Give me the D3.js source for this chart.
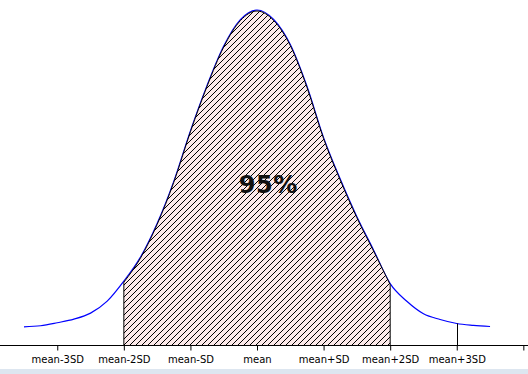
<!DOCTYPE html>
<html>
<head>
<meta charset="utf-8">
<script src="https://cdn.jsdelivr.net/npm/d3@7"></script>
<style>
  body { margin: 0; background: #fff; }
  svg { display: block; }
</style>
</head>
<body>
<div id="chart"></div>
<script>
// positions along the axis, in SD from the mean
const sdSteps = [-3.5, -3.25, -3, -2.75, -2.5, -2.25, -2, -1.75, -1.5, -1.25, -1, -0.75, -0.5, -0.25,
  0, 0.25, 0.5, 0.75, 1, 1.25, 1.5, 1.75, 2, 2.25, 2.5, 2.75, 3, 3.25, 3.5];
// curve height
const density = [0.0211, 0.0224, 0.026, 0.0303, 0.0375, 0.0518, 0.0757, 0.1045, 0.1447, 0.1951, 0.2555, 0.3099, 0.3569, 0.3885,
  0.4, 0.3887, 0.3587, 0.3088, 0.2474, 0.1978, 0.1528, 0.1131, 0.0728, 0.0517, 0.0368, 0.0299, 0.0251, 0.0229, 0.0215];
const tickValues = [-3, -2, -1, 0, 1, 2, 3, 4];
const tickLabels = ["mean-3SD", "mean-2SD", "mean-SD", "mean", "mean+SD", "mean+2SD", "mean+3SD", ""];
const shadeFrom = -2, shadeTo = 2;
const shadeLabel = "95%";

const width = 528;
const height = 374;

const svg = d3.select("#chart").append("svg")
  .attr("width", width)
  .attr("height", height);

// light strip along the bottom
svg.append("rect")
  .attr("x", 0).attr("y", 369)
  .attr("width", width).attr("height", height - 369)
  .attr("fill", "#dde6f0");

const x = d3.scaleLinear().domain([-3.86, 4.07]).range([0, width]);
const y = d3.scaleLinear().domain([0, 0.4]).range([344.5, 10]);

const data = sdSteps.map((s, i) => ({ s: s, v: density[i] }));

// hatch pattern: one-pixel stair steps
const defs = svg.append("defs");
const pat = defs.append("pattern")
  .attr("id", "hatch")
  .attr("patternUnits", "userSpaceOnUse")
  .attr("width", 6).attr("height", 6);
pat.append("rect").attr("width", 6).attr("height", 6).attr("fill", "#fdeaea");
pat.selectAll("rect.px")
  .data(d3.range(6))
  .enter().append("rect")
  .attr("class", "px")
  .attr("x", i => i)
  .attr("y", i => 5 - i)
  .attr("width", 1).attr("height", 1)
  .attr("fill", "#000");

const line = d3.line()
  .x(d => x(d.s))
  .y(d => y(d.v))
  .curve(d3.curveMonotoneX);

svg.append("path")
  .datum(data)
  .attr("d", line)
  .attr("fill", "none")
  .attr("stroke", "#0000ff")
  .attr("stroke-width", 1.2);

// shaded middle part
const shaded = data.filter(d => d.s >= shadeFrom && d.s <= shadeTo);
const area = d3.area()
  .x(d => x(d.s))
  .y0(y(0))
  .y1(d => y(d.v))
  .curve(d3.curveMonotoneX);

svg.append("path")
  .datum(shaded)
  .attr("d", area)
  .attr("transform", "translate(0,1)")
  .attr("fill", "url(#hatch)")
  .attr("stroke", "#000")
  .attr("stroke-width", 1);

// marker line at mean+3SD
svg.append("line")
  .attr("x1", Math.round(x(3)) + 0.5).attr("x2", Math.round(x(3)) + 0.5)
  .attr("y1", y(density[sdSteps.indexOf(3)]))
  .attr("y2", 346)
  .attr("stroke", "#000");

// axis
const axis = d3.axisBottom(x)
  .tickValues(tickValues)
  .tickSize(5)
  .tickPadding(5)
  .tickFormat((d, i) => tickLabels[i]);

const gx = svg.append("g")
  .attr("transform", "translate(0,345.5)")
  .call(axis);
gx.select(".domain").attr("d", "M0,0H" + width).attr("stroke", "#000");
gx.selectAll(".tick line").attr("stroke", "#000");
gx.selectAll(".tick text")
  .attr("font-family", "DejaVu Sans, Verdana, sans-serif")
  .attr("font-size", 10)
  .attr("fill", "#000");

svg.append("text")
  .attr("x", x(0.17))
  .attr("y", 193)
  .attr("text-anchor", "middle")
  .attr("font-family", "DejaVu Sans, Verdana, sans-serif")
  .attr("font-weight", "bold")
  .attr("font-size", 24)
  .attr("letter-spacing", 0.5)
  .attr("fill", "#111")
  .text(shadeLabel);
</script>
</body>
</html>
